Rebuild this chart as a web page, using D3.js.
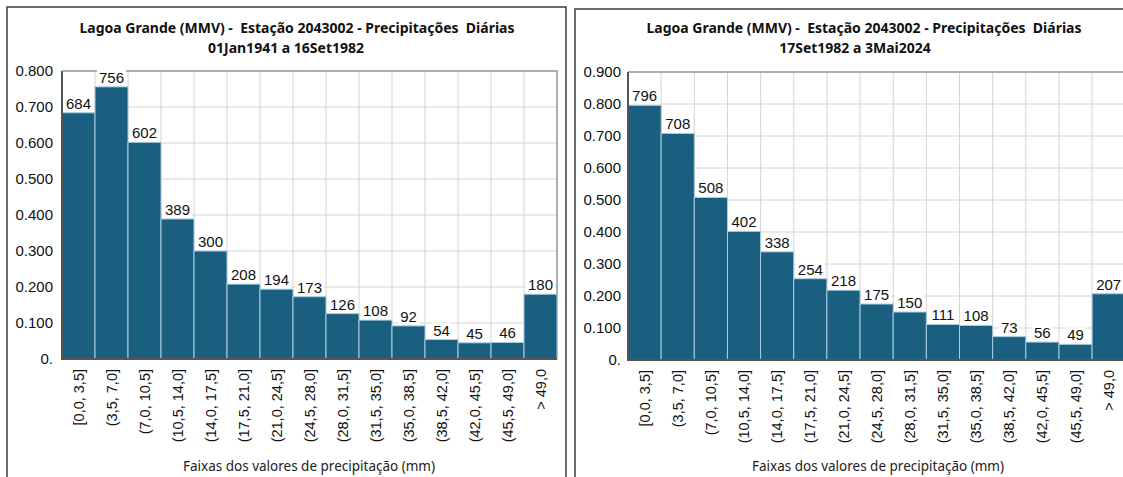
<!DOCTYPE html>
<html>
<head>
<meta charset="utf-8">
<script src="https://cdn.jsdelivr.net/npm/d3@7"></script>
<style>
  body { margin: 0; background: #fff; }
  svg { display: block; }
</style>
</head>
<body>
<script>
// Data
var categories = ['[0,0, 3,5]', '(3,5, 7,0]', '(7,0, 10,5]', '(10,5, 14,0]', '(14,0, 17,5]',
  '(17,5, 21,0]', '(21,0, 24,5]', '(24,5, 28,0]', '(28,0, 31,5]', '(31,5, 35,0]',
  '(35,0, 38,5]', '(38,5, 42,0]', '(42,0, 45,5]', '(45,5, 49,0]', '> 49,0'];
var leftValues = [684, 756, 602, 389, 300, 208, 194, 173, 126, 108, 92, 54, 45, 46, 180];
var rightValues = [796, 708, 508, 402, 338, 254, 218, 175, 150, 111, 108, 73, 56, 49, 207];
var leftTicks = [0, 0.1, 0.2, 0.3, 0.4, 0.5, 0.6, 0.7, 0.8];
var rightTicks = [0, 0.1, 0.2, 0.3, 0.4, 0.5, 0.6, 0.7, 0.8, 0.9];
var leftTitle = ['Lagoa Grande (MMV) -  Estação 2043002 - Precipitações  Diárias', '01Jan1941 a 16Set1982'];
var rightTitle = ['Lagoa Grande (MMV) -  Estação 2043002 - Precipitações  Diárias', '17Set1982 a 3Mai2024'];
var xTitle = 'Faixas dos valores de precipitação (mm)';

var barColor = '#1a5e80';
var W = 1123, H = 477;

var svg = d3.select('body')
  .append('svg')
  .attr('width', W)
  .attr('height', H);

function drawPanel(cfg) {
  var g = svg.append('g');

  // panel frame
  g.append('rect')
    .attr('x', cfg.frame[0])
    .attr('y', cfg.frame[1])
    .attr('width', cfg.frame[2])
    .attr('height', 520)
    .attr('fill', 'none')
    .attr('stroke', '#3a3a3a')
    .attr('stroke-width', 1.5);

  var xEnd = cfg.x0 + categories.length * cfg.bw;
  var xScale = d3.scaleBand()
    .domain(categories)
    .range([cfg.x0, xEnd])
    .padding(0);
  var yScale = d3.scaleLinear()
    .domain([0, cfg.ymax])
    .range([cfg.y0, cfg.y1]);

  // horizontal grid
  g.append('g').selectAll('line')
    .data(cfg.ticks)
    .enter().append('line')
    .attr('x1', cfg.x0)
    .attr('x2', xEnd)
    .attr('y1', function(d){ return yScale(d); })
    .attr('y2', function(d){ return yScale(d); })
    .attr('stroke', '#d4d4d4')
    .attr('stroke-width', 1);

  // vertical grid
  g.append('g').selectAll('line')
    .data(categories)
    .enter().append('line')
    .attr('x1', function(d){ return xScale(d) + xScale.bandwidth(); })
    .attr('x2', function(d){ return xScale(d) + xScale.bandwidth(); })
    .attr('y1', cfg.y1)
    .attr('y2', cfg.y0)
    .attr('stroke', '#d4d4d4')
    .attr('stroke-width', 1);

  // top / right plot border
  g.append('path')
    .attr('d', 'M' + cfg.x0 + ',' + cfg.y1 + 'H' + xEnd + 'V' + cfg.y0)
    .attr('fill', 'none')
    .attr('stroke', '#9a9a9a')
    .attr('stroke-width', 1.5);

  // bars
  g.append('g').selectAll('rect')
    .data(cfg.values)
    .enter().append('rect')
    .attr('x', function(d, i){ return xScale(categories[i]); })
    .attr('y', function(d){ return yScale(d / 1000); })
    .attr('width', xScale.bandwidth())
    .attr('height', function(d){ return cfg.y0 - yScale(d / 1000); })
    .attr('fill', barColor)
    .attr('stroke', '#a9cde2')
    .attr('stroke-width', 1);

  // value labels with white box
  var lab = g.append('g').selectAll('g')
    .data(cfg.values)
    .enter().append('g')
    .attr('transform', function(d, i){
      return 'translate(' + (xScale(categories[i]) + xScale.bandwidth() / 2) + ',' + (yScale(d / 1000) - 4) + ')';
    });
  lab.append('text')
    .attr('text-anchor', 'middle')
    .attr('font-family', 'Liberation Sans, Arial, sans-serif')
    .attr('font-size', '15px')
    .attr('fill', '#111')
    .text(function(d){ return d; });
  lab.each(function(){
    var t = d3.select(this).select('text');
    var bb = t.node().getBBox();
    d3.select(this).insert('rect', 'text')
      .attr('x', bb.x - 2)
      .attr('y', bb.y + 1)
      .attr('width', bb.width + 4)
      .attr('height', bb.height - 1)
      .attr('fill', '#fff');
  });

  // y axis
  var yAxis = d3.axisLeft(yScale)
    .tickValues(cfg.ticks)
    .tickSize(0)
    .tickPadding(cfg.pad)
    .tickFormat(function(d){ return d === 0 ? '0.' : d3.format('.3f')(d); });
  var ya = g.append('g')
    .attr('transform', 'translate(' + cfg.x0 + ',0)')
    .call(yAxis);
  ya.select('.domain').remove();
  ya.selectAll('text')
    .attr('font-family', 'Liberation Sans, Arial, sans-serif')
    .attr('font-size', '15px')
    .attr('fill', '#111');

  // x axis
  var xAxis = d3.axisBottom(xScale)
    .tickSize(0)
    .tickPadding(0);
  var xa = g.append('g')
    .attr('transform', 'translate(0,' + cfg.y0 + ')')
    .call(xAxis);
  xa.select('.domain').remove();
  xa.selectAll('text')
    .attr('font-family', 'Liberation Sans, Arial, sans-serif')
    .attr('font-size', '14.5px')
    .attr('fill', '#111')
    .attr('text-anchor', 'end')
    .attr('transform', 'rotate(-90)')
    .attr('x', -10)
    .attr('y', 0)
    .attr('dy', '0.35em');

  // left / bottom axis lines
  g.append('path')
    .attr('d', 'M' + cfg.x0 + ',' + cfg.y1 + 'V' + cfg.y0 + 'H' + xEnd)
    .attr('fill', 'none')
    .attr('stroke', '#555')
    .attr('stroke-width', 2);

  // titles
  g.selectAll('.title')
    .data(cfg.title)
    .enter().append('text')
    .attr('class', 'title')
    .attr('x', function(d, i){ return cfg.titleX[i]; })
    .attr('y', function(d, i){ return 33 + i * 20; })
    .attr('text-anchor', 'middle')
    .attr('font-family', 'Noto Sans, sans-serif')
    .attr('font-weight', 'bold')
    .attr('font-size', '14px')
    .style('white-space', 'pre')
    .attr('fill', '#111')
    .text(function(d){ return d; });

  g.append('text')
    .attr('x', cfg.xTitleX)
    .attr('y', 471)
    .attr('text-anchor', 'middle')
    .attr('font-family', 'Noto Sans, sans-serif')
    .attr('font-size', '13.5px')
    .attr('fill', '#222')
    .text(xTitle);
}

drawPanel({
  frame: [7, 7, 559],
  x0: 62, bw: 33, y0: 359, y1: 71, ymax: 0.8,
  ticks: leftTicks, values: leftValues, pad: 9,
  title: leftTitle, titleX: [297, 286], xTitleX: 309
});

drawPanel({
  frame: [575, 9, 600],
  x0: 628, bw: 33.15, y0: 360, y1: 72, ymax: 0.9,
  ticks: rightTicks, values: rightValues, pad: 7,
  title: rightTitle, titleX: [864, 855], xTitleX: 878
});
</script>
</body>
</html>
